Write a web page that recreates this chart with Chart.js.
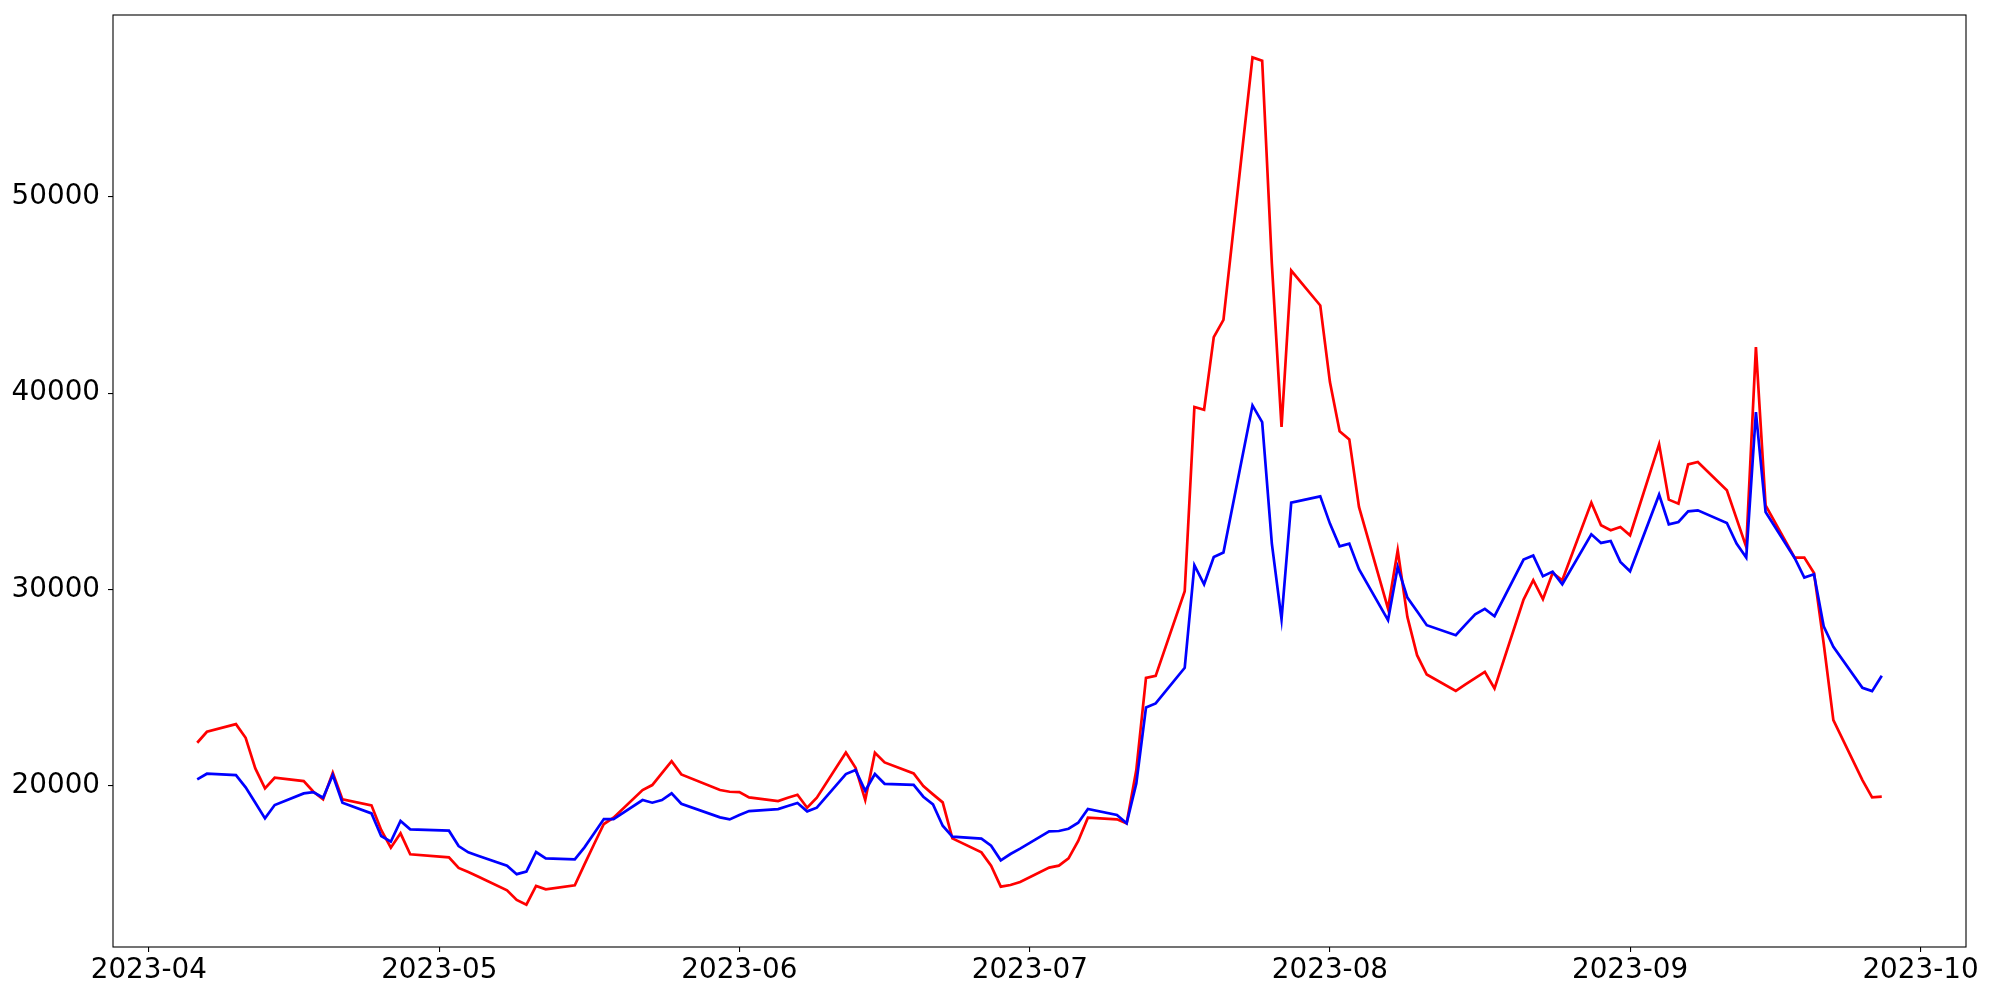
<!DOCTYPE html>
<html><head><meta charset="utf-8">
<script src="https://cdn.jsdelivr.net/npm/chart.js@4.4.0/dist/chart.umd.min.js"></script>
<style>html,body{margin:0;padding:0;background:#fff;}canvas{display:block;}</style>
</head><body>
<canvas id="c" width="2000" height="1000"></canvas>
<script>
const dates = [
'2023-04-06','2023-04-07','2023-04-10','2023-04-11','2023-04-12','2023-04-13','2023-04-14',
'2023-04-17','2023-04-18','2023-04-19','2023-04-20','2023-04-21','2023-04-24','2023-04-25',
'2023-04-26','2023-04-27','2023-04-28','2023-05-02','2023-05-03','2023-05-04','2023-05-05',
'2023-05-08','2023-05-09','2023-05-10','2023-05-11','2023-05-12','2023-05-15','2023-05-16',
'2023-05-17','2023-05-18','2023-05-19','2023-05-22','2023-05-23','2023-05-24','2023-05-25',
'2023-05-26','2023-05-30','2023-05-31','2023-06-01','2023-06-02','2023-06-05','2023-06-06',
'2023-06-07','2023-06-08','2023-06-09','2023-06-12','2023-06-13','2023-06-14','2023-06-15',
'2023-06-16','2023-06-19','2023-06-20','2023-06-21','2023-06-22','2023-06-23','2023-06-26',
'2023-06-27','2023-06-28','2023-06-29','2023-06-30','2023-07-03','2023-07-04','2023-07-05',
'2023-07-06','2023-07-07','2023-07-10','2023-07-11','2023-07-12','2023-07-13','2023-07-14',
'2023-07-17','2023-07-18','2023-07-19','2023-07-20','2023-07-21','2023-07-24','2023-07-25',
'2023-07-26','2023-07-27','2023-07-28','2023-07-31','2023-08-01','2023-08-02','2023-08-03',
'2023-08-04','2023-08-07','2023-08-08','2023-08-09','2023-08-10','2023-08-11','2023-08-14',
'2023-08-15','2023-08-16','2023-08-17','2023-08-18','2023-08-21','2023-08-22','2023-08-23',
'2023-08-24','2023-08-25','2023-08-28','2023-08-29','2023-08-30','2023-08-31','2023-09-01',
'2023-09-04','2023-09-05','2023-09-06','2023-09-07','2023-09-08','2023-09-11','2023-09-12',
'2023-09-13','2023-09-14','2023-09-15','2023-09-18','2023-09-19','2023-09-20','2023-09-21',
'2023-09-22','2023-09-25','2023-09-26','2023-09-27'
];
const redSeries = [
22191,22751,23141,22445,20884,19866,20409,
20239,19696,19306,20664,19306,19001,17745,
16845,17577,16506,16353,15810,15600,15380,
14670,14181,13943,14894,14724,14928,15997,
17032,18050,18372,19781,20036,20647,21257,
20579,19781,19696,19679,19408,19221,19391,
19543,18882,19391,21699,20918,19272,21682,
21190,20630,19985,19561,19153,17321,16608,
15927,14860,14945,15097,15827,15929,16302,
17185,18372,18288,18086,20800,25500,25602,
29912,39297,39161,42860,43743,57115,56945,
46600,38279,46254,44473,40570,38058,37651,
34206,29030,32000,28605,26654,25670,24838,
25161,25483,25802,24957,29488,30472,29505,
30845,30472,34426,33272,33018,33187,32763,
37396,34579,34375,36378,36496,35054,33612,
32169,42351,34290,31626,31626,30845,27248,
23345,20290,19408,19442
];
const blueSeries = [
20324,20613,20545,19917,19136,18339,19017,
19612,19679,19391,20545,19136,18593,17439,
17151,18203,17779,17711,16930,16608,16438,
15929,15495,15623,16625,16302,16251,16862,
17575,18305,18305,19272,19136,19272,19612,
19085,18390,18288,18508,18712,18814,18967,
19119,18695,18882,20596,20799,19747,20596,
20100,20049,19442,19052,17965,17405,17303,
16947,16201,16523,16794,17677,17694,17812,
18118,18814,18508,18086,20121,23990,24193,
26009,31236,30268,31660,31881,39381,38533,
32339,28487,34426,34748,33357,32203,32339,
31032,28436,31151,29590,28894,28181,27672,
28215,28741,29012,28639,31524,31728,30676,
30913,30268,32814,32373,32474,31405,30930,
34833,33323,33442,33985,34036,33391,32339,
31626,39042,33951,31609,30608,30778,28130,
27078,24991,24821,25602
];
const yTickValues = [20000, 30000, 40000, 50000];
const xTickMonths = ['2023-04','2023-05','2023-06','2023-07','2023-08','2023-09','2023-10'];

const DAY = 86400000;
const ORIGIN = Date.UTC(2023, 3, 1);
function dayNum(s) {
  const p = s.split('-').map(Number);
  return (Date.UTC(p[0], p[1] - 1, p[2] || 1) - ORIGIN) / DAY;
}
const xs = dates.map(dayNum);
const redPts = xs.map((x, i) => ({x: x, y: redSeries[i]}));
const bluePts = xs.map((x, i) => ({x: x, y: blueSeries[i]}));
const xMin = Math.min(...xs), xMax = Math.max(...xs), xPad = (xMax - xMin) * 0.05;
const allY = redSeries.concat(blueSeries);
const yMin = Math.min(...allY), yMax = Math.max(...allY), yPad = (yMax - yMin) * 0.05;
const xTickVals = xTickMonths.map(m => dayNum(m + '-01'));

const FONT = {family: 'DejaVu Sans', size: 27.8};

const boxPlugin = {
  id: 'box',
  afterDraw(chart) {
    const ctx = chart.ctx, a = chart.chartArea;
    ctx.save();
    ctx.strokeStyle = '#000';
    ctx.lineWidth = 1.1;
    ctx.strokeRect(a.left, a.top, a.right - a.left, a.bottom - a.top);
    ctx.restore();
  }
};

new Chart(document.getElementById('c'), {
  type: 'line',
  data: {
    datasets: [
      {label: 'blue', data: bluePts, borderColor: '#0000ff', borderWidth: 2.7, pointRadius: 0, tension: 0, fill: false, order: 0},
      {label: 'red', data: redPts, borderColor: '#ff0000', borderWidth: 2.7, pointRadius: 0, tension: 0, fill: false, order: 1}
    ]
  },
  options: {
    responsive: false,
    animation: false,
    devicePixelRatio: 1,
    layout: {padding: {top: 15, right: 34, bottom: 0, left: 0}},
    plugins: {legend: {display: false}, tooltip: {enabled: false}},
    scales: {
      x: {
        type: 'linear',
        min: xMin - xPad,
        max: xMax + xPad,
        afterBuildTicks: s => { s.ticks = xTickVals.map(v => ({value: v})); },
        afterFit: s => { s.height = 53; s.paddingLeft = 0; s.paddingRight = 0; },
        grid: {display: true, drawOnChartArea: false, drawTicks: true, tickLength: 5, color: '#000', tickColor: '#000', lineWidth: 1.1},
        border: {display: false},
        ticks: {
          autoSkip: false, maxRotation: 0, minRotation: 0, padding: 2,
          color: '#000', font: FONT,
          callback: v => { const i = xTickVals.indexOf(v); return i >= 0 ? xTickMonths[i] : ''; }
        }
      },
      y: {
        type: 'linear',
        min: yMin - yPad,
        max: yMax + yPad,
        afterBuildTicks: s => { s.ticks = yTickValues.map(v => ({value: v})); },
        afterFit: s => { s.width = 113; s.paddingTop = 0; s.paddingBottom = 0; },
        grid: {display: true, drawOnChartArea: false, drawTicks: true, tickLength: 5, color: '#000', tickColor: '#000', lineWidth: 1.1},
        border: {display: false},
        ticks: {padding: 8, color: '#000', font: FONT, callback: v => String(v)}
      }
    }
  },
  plugins: [boxPlugin]
});
</script>
</body></html>
